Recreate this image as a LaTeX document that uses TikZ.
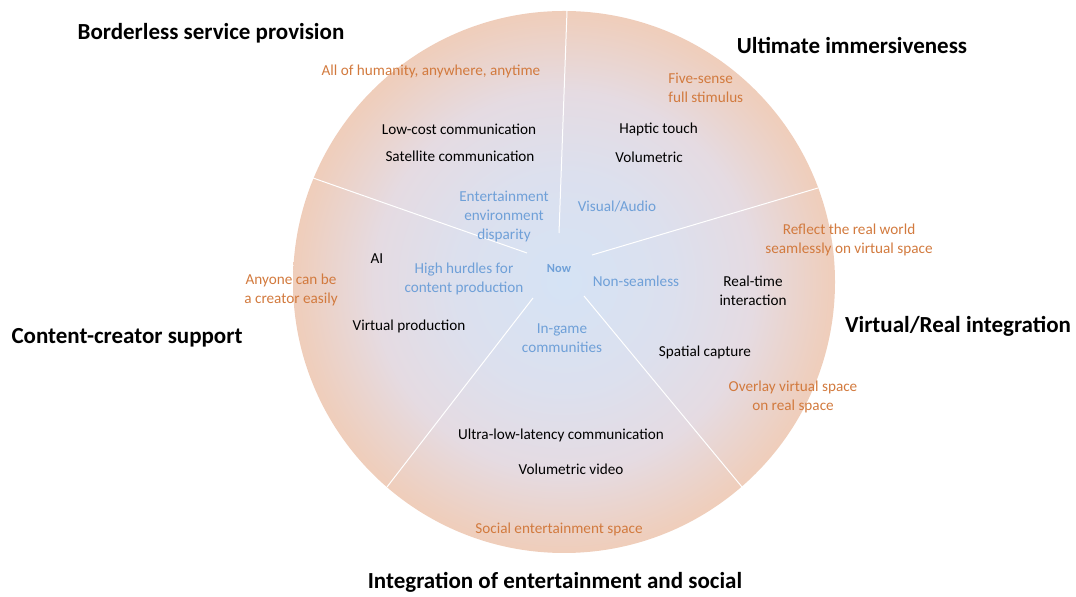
\documentclass[tikz,border=0pt]{standalone}
\usepackage{fontspec}
\setmainfont{Carlito}
\usepackage{xcolor}
\usetikzlibrary{positioning}

\definecolor{glowctr}{HTML}{D5E3F5}
\definecolor{glowin}{HTML}{DCE0EE}
\definecolor{glowmid}{HTML}{E5DBE2}
\definecolor{glowout}{HTML}{EECFBF}
\definecolor{glowrim}{HTML}{F4C7A8}
\definecolor{goalor}{HTML}{D27A3E}
\definecolor{nowblue}{HTML}{6FA0D8}
\pgfdeclareradialshading{nowglow}{\pgfpoint{0bp}{0bp}}{%
  color(0bp)=(glowctr); color(10bp)=(glowin); color(17.5bp)=(glowmid);
  color(24bp)=(glowout); color(29bp)=(glowrim); color(50bp)=(glowrim)}

\begin{document}
\begin{tikzpicture}[
  x=0.5pt, y=-0.5pt,
  every node/.style={inner sep=0pt, align=center},
  axis/.style={font=\fontsize{11.5}{14}\selectfont\bfseries, text=black},
  goal/.style={font=\fontsize{7.6}{9.5}\selectfont, text=goalor},
  tech/.style={font=\fontsize{7.6}{9.5}\selectfont, text=black},
  now/.style={font=\fontsize{7.6}{9.5}\selectfont, text=nowblue},
  spoke/.style={draw=white, line width=0.5pt}
]
\useasboundingbox (0,0) rectangle (1076,597);

% disc
\coordinate (c) at (564,282);
\shade[shading=nowglow] (c) circle[radius=135.5pt];

% spokes
\coordinate (s1i) at (559,233); \coordinate (s1o) at (567,11);
\coordinate (s2i) at (592,255); \coordinate (s2o) at (818,188);
\coordinate (s3i) at (584,296); \coordinate (s3o) at (742,487);
\coordinate (s4i) at (533,298); \coordinate (s4o) at (387,487);
\coordinate (s5i) at (527,253); \coordinate (s5o) at (313,178);
\draw[spoke] (s1i)--(s1o); \draw[spoke] (s2i)--(s2o); \draw[spoke] (s3i)--(s3o);
\draw[spoke] (s4i)--(s4o); \draw[spoke] (s5i)--(s5o);

% axis titles
\node[axis] (border) at (211,33) {Borderless service provision};
\node[axis] (immers) at (852,46) {Ultimate immersiveness};
\node[axis] (vrint) at (958,326) {Virtual/Real integration};
\node[axis] (creator) at (127,338) {Content-creator support};
\node[axis] (social) at (555,582) {Integration of entertainment and social};

% goals
\node[goal] (g1) at (431,71) {All of humanity, anywhere, anytime};
\node[goal, align=left, anchor=west] (g2) at (668,88) {Five-sense\\full stimulus};
\node[goal] (g3) at (849,240) {Reflect the real world\\seamlessly on virtual space};
\node[goal] (g4) at (793,397) {Overlay virtual space\\on real space};
\node[goal] (g5) at (559,529) {Social entertainment space};
\node[goal] (g6) at (291,290) {Anyone can be\\a creator easily};

% technologies
\node[tech] (lowcost) at (459,129) {Low-cost communication};
\node[tech] (sat) at (460,156) {Satellite communication};
\node[tech, anchor=west] (haptic) at (619,129) {Haptic touch};
\node[tech, anchor=west] (volu) at (615,157) {Volumetric};
\node[tech] (ai) at (377,259) {AI};
\node[tech] (vprod) at (409,326) {Virtual production};
\node[tech] (rtime) at (753,291) {Real-time\\interaction};
\node[tech] (spcap) at (705,352) {Spatial capture};
\node[tech] (ulow) at (561,435) {Ultra-low-latency communication};
\node[tech] (vvid) at (571,469) {Volumetric video};

% present state
\node[now, font=\fontsize{6.2}{8}\selectfont\bfseries] (now) at (559,269) {Now};
\node[now] (disp) at (504,217) {Entertainment\\environment\\disparity};
\node[now] (va) at (617,207) {Visual/Audio};
\node[now] (hurdle) at (464,279) {High hurdles for\\content production};
\node[now] (nonseam) at (636,281) {Non-seamless};
\node[now] (ingame) at (562,338) {In-game\\communities};
\end{tikzpicture}
\end{document}
